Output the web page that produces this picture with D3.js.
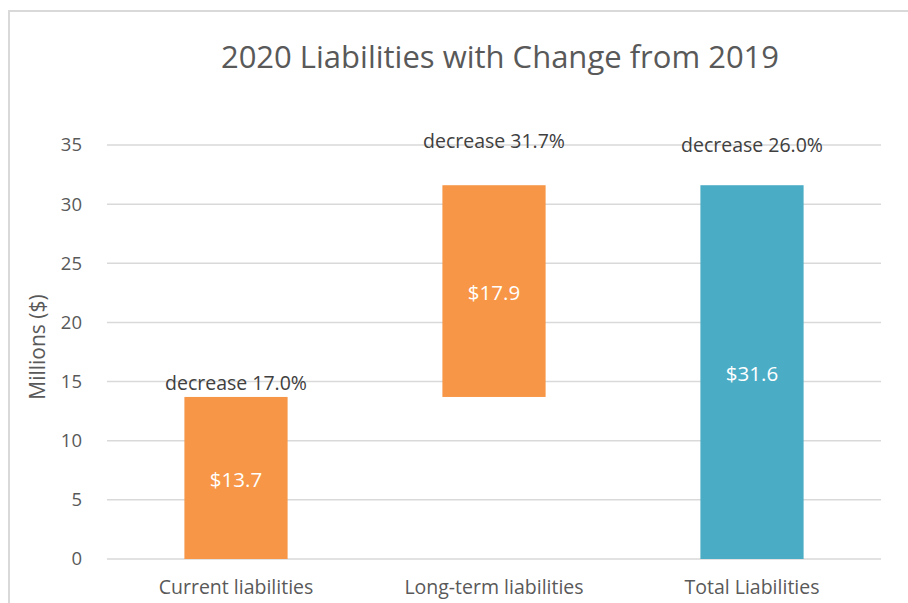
<!DOCTYPE html>
<html>
<head>
<meta charset="utf-8">
<script src="https://cdn.jsdelivr.net/npm/d3@7"></script>
<style>
  body { margin: 0; background: #fff; }
  svg { display: block; font-family: "Open Sans", "Noto Sans", sans-serif; }
</style>
</head>
<body>
<div id="chart"></div>
<script>
// data (millions of dollars)
var categories = ["Current liabilities", "Long-term liabilities", "Total Liabilities"];
var barBase = [0, 13.7, 0];
var barValue = [13.7, 17.9, 31.6];
var barColor = ["#f79646", "#f79646", "#4bacc6"];
var changeLabels = ["decrease 17.0%", "decrease 31.7%", "decrease 26.0%"];
var changeLabelAt = [14.9, 35.3, 35.0]; // where the change labels sit, in axis units
var yTicks = [0, 5, 10, 15, 20, 25, 30, 35];

var width = 908;
var height = 603;
var margin = { top: 145, right: 27, bottom: 44, left: 107 };

var svg = d3
  .select("#chart")
  .append("svg")
  .attr("width", width)
  .attr("height", height);

// chart frame (only top and left edge are inside the picture)
svg
  .append("path")
  .attr("d", "M9,603 V11 H908")
  .attr("fill", "none")
  .attr("stroke", "#d9d9d9")
  .attr("stroke-width", 2);

const x = d3
  .scaleBand()
  .domain(categories)
  .range([margin.left, width - margin.right])
  .paddingInner(0.6)
  .paddingOuter(0.3);

const y = d3
  .scaleLinear()
  .domain([0, 35])
  .range([height - margin.bottom, margin.top]);

// gridlines
svg
  .append("g")
  .selectAll("line")
  .data(yTicks)
  .enter()
  .append("line")
  .attr("x1", margin.left)
  .attr("x2", width - margin.right)
  .attr("y1", (d) => y(d))
  .attr("y2", (d) => y(d))
  .attr("stroke", "#d9d9d9")
  .attr("stroke-width", 1.5);

// y axis labels
const yAxis = svg
  .append("g")
  .attr("transform", `translate(${margin.left - 25},0)`)
  .call(d3.axisLeft(y).tickValues(yTicks).tickSize(0).tickPadding(0));
yAxis.select(".domain").remove();
yAxis
  .selectAll("text")
  .attr("font-family", "Open Sans, Noto Sans, sans-serif")
  .attr("font-size", 18.5)
  .attr("fill", "#595959");

// x axis labels
const xAxis = svg
  .append("g")
  .attr("transform", `translate(0,${height - margin.bottom})`)
  .call(d3.axisBottom(x).tickSize(0).tickPadding(21));
xAxis.select(".domain").remove();
xAxis
  .selectAll("text")
  .attr("font-family", "Open Sans, Noto Sans, sans-serif")
  .attr("font-size", 19.5)
  .attr("fill", "#595959");

// bars
svg
  .append("g")
  .selectAll("rect")
  .data(categories)
  .enter()
  .append("rect")
  .attr("x", (d) => x(d))
  .attr("width", x.bandwidth())
  .attr("y", (d, i) => y(barBase[i] + barValue[i]))
  .attr("height", (d, i) => y(barBase[i]) - y(barBase[i] + barValue[i]))
  .attr("fill", (d, i) => barColor[i]);

// value labels inside the bars
svg
  .append("g")
  .selectAll("text")
  .data(categories)
  .enter()
  .append("text")
  .attr("x", (d) => x(d) + x.bandwidth() / 2)
  .attr("y", (d, i) => y(barBase[i] + barValue[i] / 2))
  .attr("dy", "0.45em")
  .attr("text-anchor", "middle")
  .attr("font-size", 20.5)
  .attr("fill", "#ffffff")
  .text((d, i) => "$" + barValue[i].toFixed(1));

// change labels
svg
  .append("g")
  .selectAll("text")
  .data(categories)
  .enter()
  .append("text")
  .attr("x", (d) => x(d) + x.bandwidth() / 2)
  .attr("y", (d, i) => y(changeLabelAt[i]))
  .attr("dy", "0.35em")
  .attr("text-anchor", "middle")
  .attr("font-size", 19.5)
  .attr("fill", "#404040")
  .text((d, i) => changeLabels[i]);

// title
svg
  .append("text")
  .attr("x", 500)
  .attr("y", 68)
  .attr("text-anchor", "middle")
  .attr("font-size", 31)
  .attr("fill", "#595959")
  .text("2020 Liabilities with Change from 2019");

// y axis title
svg
  .append("text")
  .attr("transform", "translate(45,347) rotate(-90)")
  .attr("text-anchor", "middle")
  .attr("font-size", 21)
  .attr("fill", "#595959")
  .text("Millions ($)");
</script>
</body>
</html>
